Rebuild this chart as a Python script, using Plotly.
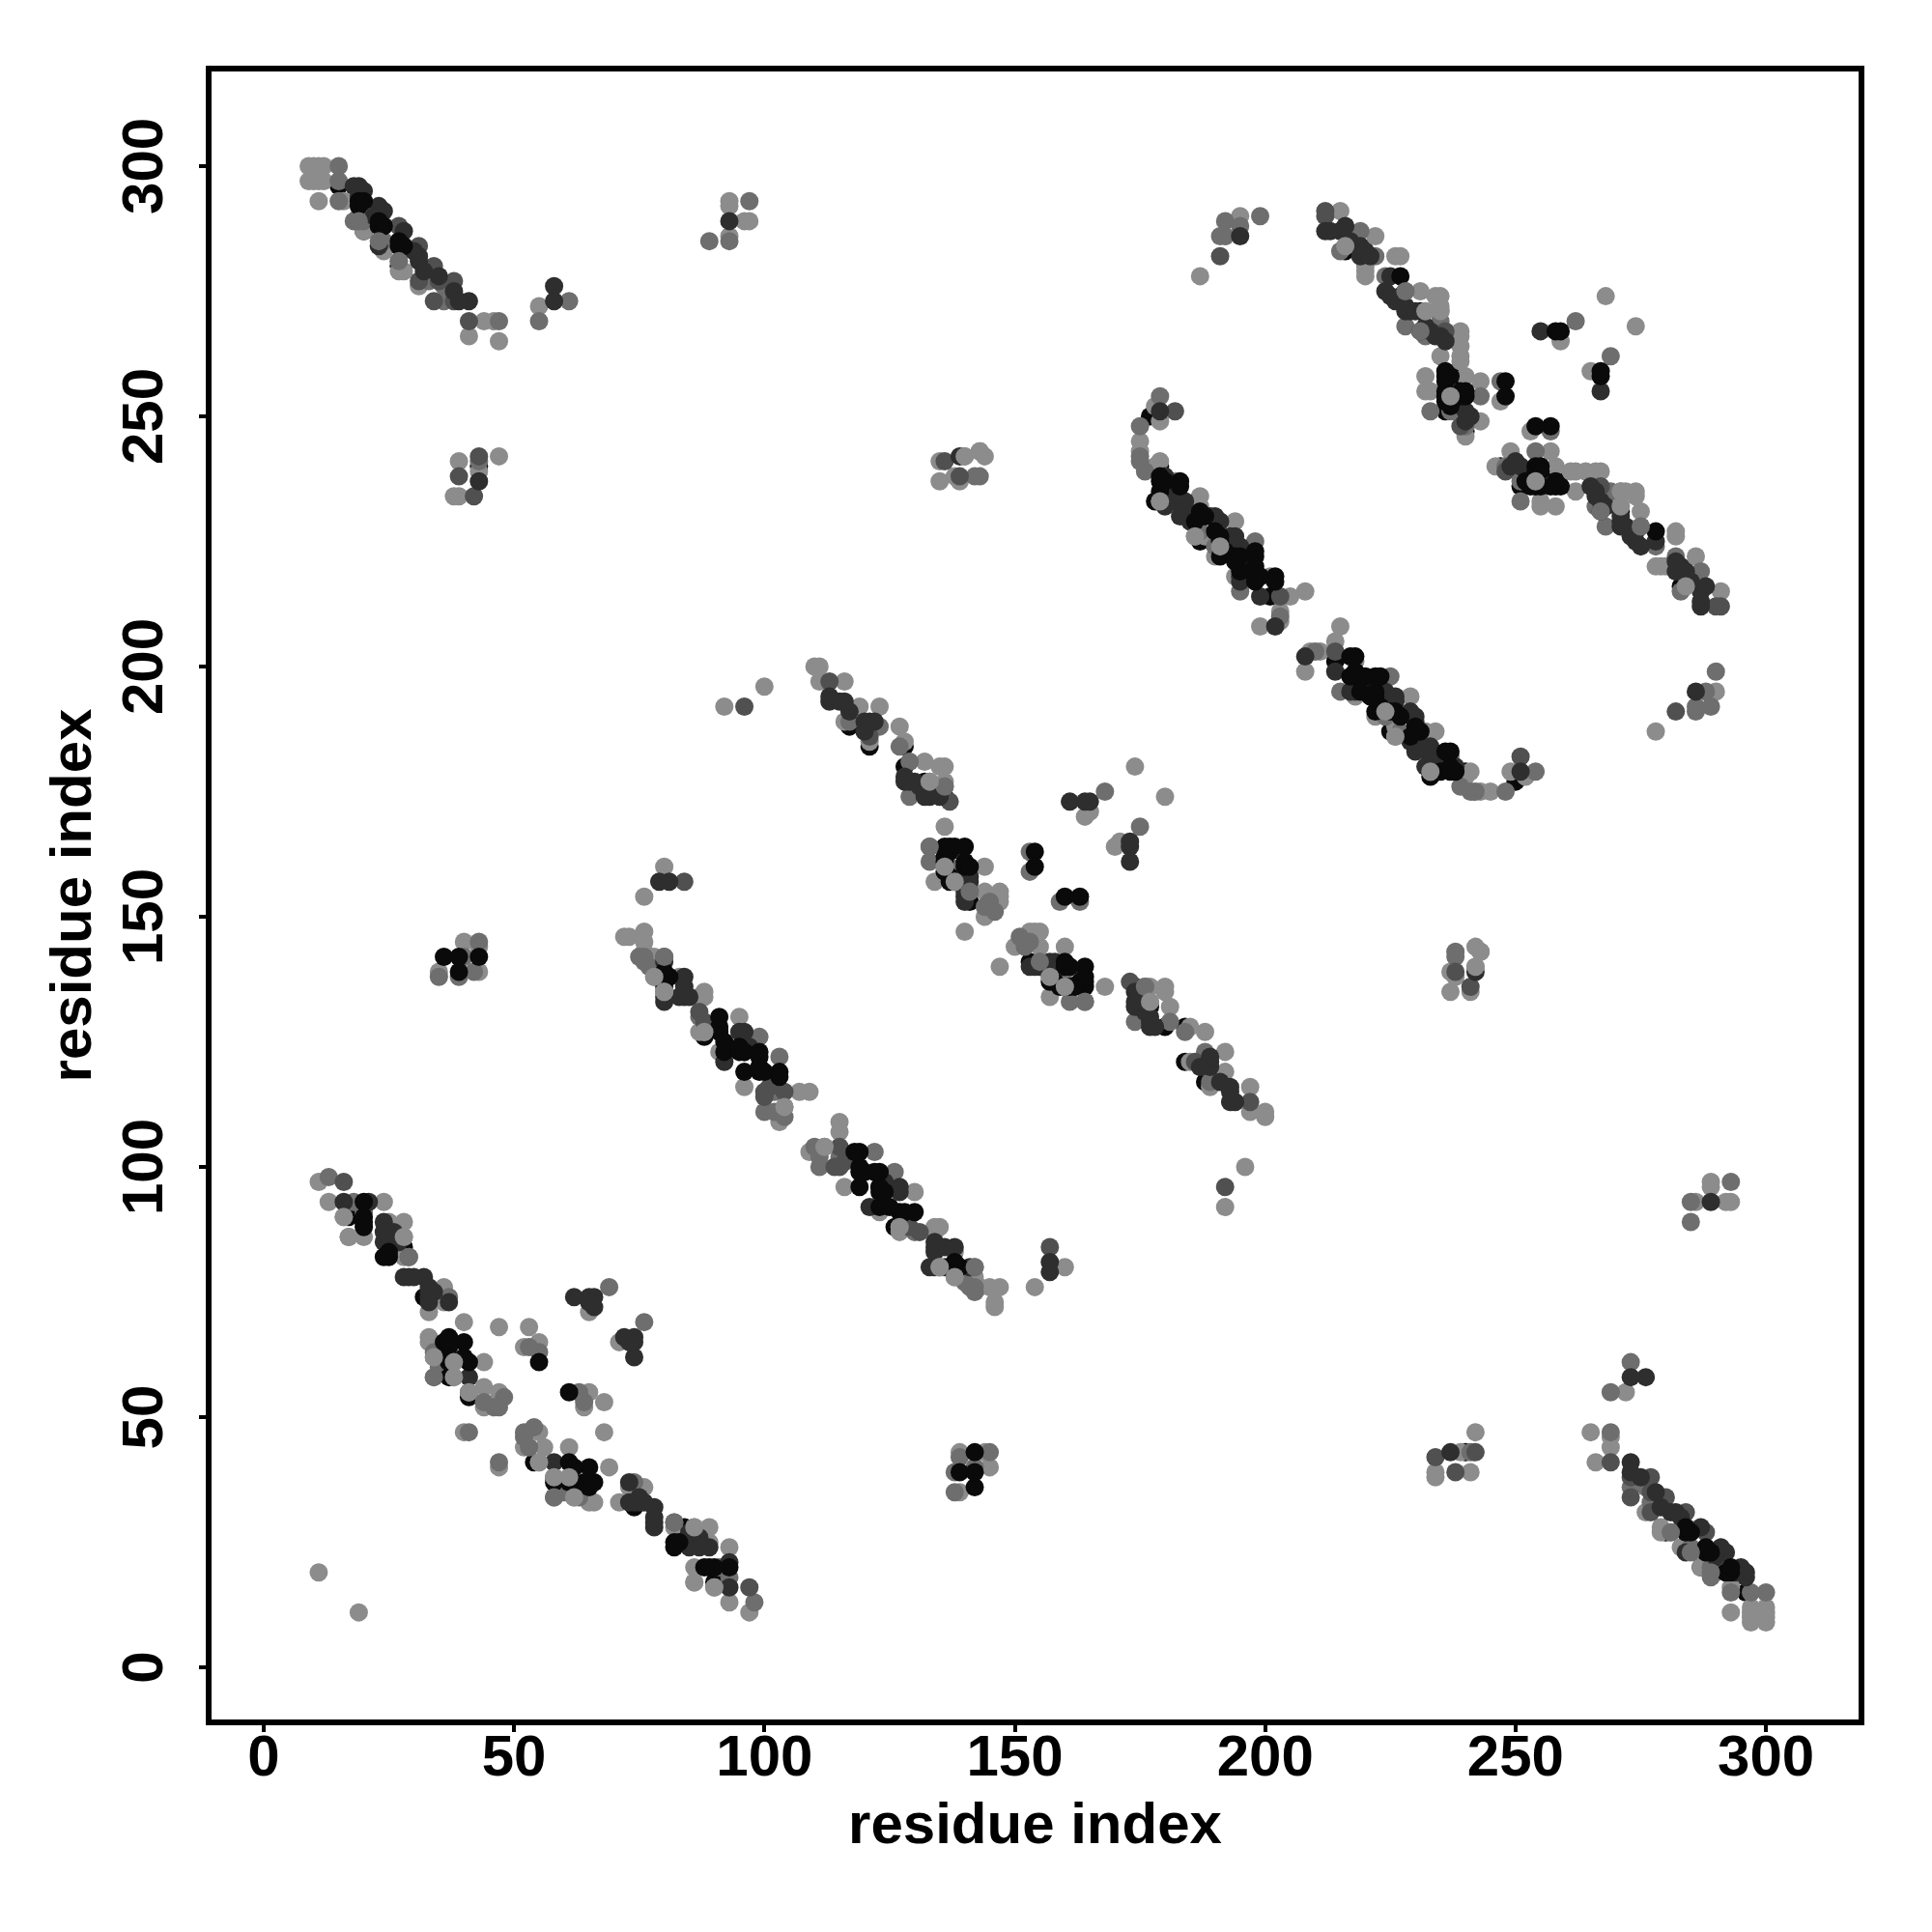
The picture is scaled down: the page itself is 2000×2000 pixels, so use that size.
import plotly.graph_objects as go

# Contact pairs (residue i < residue j), by grey level.
# The map is symmetric, each pair is plotted as (i, j) and (j, i).
under_i = [15,28,41,32,17,128,117,121,128,132,136,141,177,178,187,201,216,231,239,240,236,27,88,179,96,20,43]
under_j = [296,84,54,74,90,180,188,184,184,177,174,153,250,233,225,214,283,271,258,247,251,280,126,240,123,287,240]

light_i = [11,13,24,16,28,25,17,20,28,28,36,36,33,33,33,40,34,38,44,41,44,47,44,40,47,53,52,55,65,11,
           76,72,73,76,76,78,78,83,80,88,88,87,95,88,87,91,96,107,109,104,103,80,
           110,111,111,116,119,123,116,121,127,128,132,136,135,133,136,136,136,144,134,138,144,147,146,147,144,140,164,165,174,
           178,175,175,179,178,182,179,179,187,187,194,186,188,190,194,201,205,208,199,203,203,92,100,
           215,222,218,216,220,220,226,227,231,234,235,232,235,239,239,235,239,239,232,240,243,232,233,237,243,240,247,259,268,
           9,11,12,9,11,11,16,27,44,46,41,47,55,
           39,38,39,43,47,135,135,140,138,139,143,144,35,40,43,43,93,93,96,97,93,187,195,
           19,20,24,28,27,31,10,10,12,76,147,145,220,235,239]
light_j = [97,93,93,90,89,89,86,86,86,82,76,73,71,66,65,69,62,61,61,55,56,55,52,47,68,68,64,65,71,19,
           154,146,146,147,145,142,138,138,135,135,134,134,130,127,127,123,116,115,115,112,109,160,
           200,200,197,197,192,192,189,185,188,185,181,180,180,177,177,168,160,160,157,157,155,154,154,153,150,147,170,171,180,
           252,245,243,241,240,237,249,233,234,232,229,226,226,222,218,218,214,215,208,211,209,192,196,
           291,286,286,284,280,278,282,282,275,274,274,271,271,267,266,262,262,261,258,258,257,255,255,254,249,246,253,265,274,
           300,300,300,297,297,293,293,281,269,269,266,265,272,
           241,234,234,239,242,241,237,242,238,237,243,242,139,145,144,139,293,292,289,289,286,278,290,
           290,287,283,279,279,276,300,297,297,143,155,152,279,272,264]

medium_i = [13,18,20,37,55,53,69,34,38,48,46,47,44,41,
            80,75,76,87,99,103,102,100,102,104,
            117,123,127,129,136,129,133,133,137,141,144,145,153,153,168,
            179,175,175,187,190,198,195,203,
            219,215,222,224,228,228,235,232,243,233,237,240,262,
            15,15,15,18,20,24,47,55,61,
            43,143,142,35,43,40,39,42,89,97,93,191,192,192,195,199,247,
            33,36,37,36,76,77,145,146,175,176,34,35]
medium_j = [98,93,91,74,63,64,76,58,58,54,52,52,53,47,
            142,142,141,130,126,122,115,111,111,110,
            189,188,184,181,176,174,164,161,160,155,152,152,163,159,175,
            254,248,241,227,224,225,215,210,
            287,283,282,278,275,268,269,266,254,251,251,248,269,
            300,297,293,289,289,285,269,269,273,
            241,238,238,138,145,142,138,139,285,293,285,286,286,289,288,290,257,
            277,276,274,273,142,140,153,151,242,239,63,60]

dim_i = [16,29,100,104,84,113,121,137,182,203,212,212,27,31,34,31,35,38,34,38,41,236,239,43,39,42,136,139,191,96,
         100,101,87,88]
dim_j = [97,82,115,115,157,197,186,173,251,214,291,290,288,284,280,277,277,277,273,273,269,267,248,242,238,234,241,238,282,192,
         114,116,131,129]

dark_i = [16,24,24,25,28,29,32,33,62,65,66,66,65,79,81,80,84,80,84,95,113,116,121,133,132,128,129,141,140,161,164,165,
          179,182,184,183,190,194,194,199,202,212,215,219,219,224,227,228,229,232,231,235,240,255,
          19,18,23,23,31,41,58,58,93,195,41,43,139,195,
          21,24,26,25,27,30,33,33,34,33,37,
          80,80,84,83,85,96,97,92,
          113,115,117,120,122,120,128,130,131,133,135,141,140,140,
          180,180,181,184,185,189,191,193,195,195,195,196,180,
          213,216,217,219,220,221,225,225,226,228,230,233,234,236,241,240,
          19,20,24,22,23,28,31,30,32,35,38,39]
dark_j = [93,89,85,86,78,78,78,75,74,74,74,72,73,157,157,141,138,134,134,127,193,193,189,174,174,177,177,157,154,173,173,173,
          251,233,233,230,230,226,224,214,208,287,287,283,282,275,274,271,271,268,267,266,251,267,
          296,296,292,284,281,273,276,273,289,286,58,237,242,218,
          93,87,87,84,85,78,76,74,75,73,73,
          136,133,136,134,134,127,124,121,
          194,193,191,189,189,187,178,177,176,175,174,158,155,153,
          238,235,233,231,229,230,229,226,224,220,217,218,232,
          287,288,285,284,283,282,278,274,273,272,271,267,266,265,250,249,
          294,295,291,290,290,287,282,283,279,278,275,273]

black_i = [20,20,25,37,36,40,37,41,37,55,91,91,92,95,99,96,99,103,80,136,137,140,140,136,137,154,154,
           183,179,187,191,191,194,198,198,202,227,236,236,240,239,248,248,258,259,19,23,27,36,39,43,39,
           19,20,23,24,27,28,
           91,92,95,96,99,99,100,103,80,80,81,
           137,138,136,140,141,137,136,
           179,179,180,183,187,188,186,190,191,192,194,195,198,198,199,198,202,195,
           236,236,237,240,236,236,239,237,
           20,20,25,24,37,37,37,40]
black_j = [93,89,82,65,65,65,61,61,58,61,130,127,123,123,123,119,119,119,138,164,164,164,160,161,157,163,160,
           237,237,230,226,222,222,222,218,218,278,258,255,254,254,257,254,267,267,293,288,284,142,142,142,139,
           292,293,289,288,285,284,
           128,125,124,123,122,120,119,118,139,137,138,
           163,164,162,161,160,158,159,
           238,235,237,236,231,230,229,227,225,223,221,222,223,220,218,217,217,219,
           259,257,258,255,254,253,255,252,
           90,88,83,82,66,64,62,62]

# Light and medium marks that lie on top of the darker ones
top_light_i = [38,34,80,88,138,133,136,232,237,140,143,186,179,16,28,17,41,104,80,78,216,235,38,191]
top_light_j = [61,62,135,127,157,177,160,271,254,242,243,226,233,90,86,86,55,112,135,138,284,271,58,224]
top_medium_i = [80,141,228,136,133,19,23,27,231,29,34]
top_medium_j = [142,155,275,176,164,289,285,281,267,82,58]

x_ticks = [0, 50, 100, 150, 200, 250, 300]
y_ticks = [0, 50, 100, 150, 200, 250, 300]

groups = [(under_i, under_j, "#0a0a0a"),
          (light_i, light_j, "#8c8c8c"),
          (medium_i, medium_j, "#6e6e6e"),
          (dim_i, dim_j, "#505050"),
          (dark_i, dark_j, "#2e2e2e"),
          (black_i, black_j, "#0a0a0a"),
          (top_medium_i, top_medium_j, "#6e6e6e"),
          (top_light_i, top_light_j, "#8c8c8c")]

fig = go.Figure()
for i, j, colour in groups:
    fig.add_trace(go.Scatter(x=i + j, y=j + i, mode="markers",
                             marker=dict(size=19, color=colour, line=dict(width=0)),
                             showlegend=False, hoverinfo="skip", cliponaxis=False))

FONT = "Liberation Sans"
axis = dict(showgrid=False, zeroline=False, showline=True, mirror=True, linecolor="black", linewidth=6,
            ticks="outside", ticklen=7, tickwidth=4, tickcolor="black",
            tickfont=dict(family=FONT, size=60, color="black", weight="bold"))
fig.update_layout(
    width=2000, height=2000, autosize=False, showlegend=False,
    paper_bgcolor="white", plot_bgcolor="white",
    margin=dict(l=211, r=84, t=66, b=228, pad=0),
    xaxis=dict(axis, range=[-10.4, 318.5], tickvals=x_ticks, ticklabelstandoff=-27,
               title=dict(text="<b>residue index</b>", standoff=18,
                          font=dict(family=FONT, size=60, color="black"))),
    yaxis=dict(axis, range=[-10.4, 318.9], tickvals=y_ticks, tickangle=-90, ticklabelstandoff=14, ticklabelshift=9,
               title=dict(text="<b>residue index</b>", standoff=2,
                          font=dict(family=FONT, size=60, color="black"))),
)
fig.write_html("out.html")
